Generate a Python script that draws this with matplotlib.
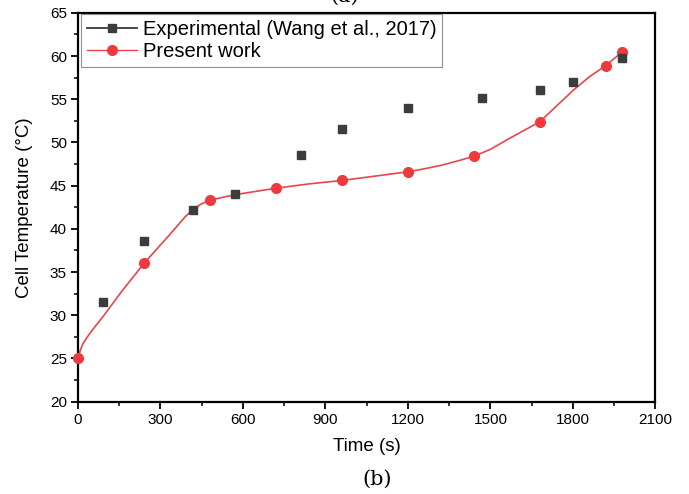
import matplotlib.pyplot as plt
from matplotlib.lines import Line2D
from matplotlib.ticker import MultipleLocator

plt.rcParams['font.family'] = ['Liberation Sans', 'DejaVu Sans']

# experimental points (Wang et al., 2017)
exp_time = [90, 240, 420, 570, 810, 960, 1200, 1470, 1680, 1800, 1980]
exp_temp = [31.5, 38.6, 42.2, 44.0, 48.6, 51.5, 54.0, 55.2, 56.1, 57.0, 59.8]

# present work - markers
sim_time = [0, 240, 480, 720, 960, 1200, 1440, 1680, 1920, 1980]
sim_temp = [25.0, 36.0, 43.3, 44.7, 45.6, 46.6, 48.4, 52.4, 58.9, 60.5]

# present work - curve
curve_time = [0, 8, 18, 30, 50, 90, 160, 240, 330, 390, 420, 450, 480, 540, 600, 720, 840,
              960, 1080, 1200, 1260, 1320, 1380, 1440, 1500, 1560, 1620, 1680, 1740, 1800,
              1860, 1920, 1950, 1980]
curve_temp = [25.0, 25.9, 26.7, 27.3, 28.2, 29.8, 32.8, 36.0, 39.2, 41.4, 42.3, 42.9, 43.3,
              43.75, 44.1, 44.7, 45.2, 45.6, 46.1, 46.6, 46.95, 47.35, 47.85, 48.4, 49.2,
              50.3, 51.35, 52.4, 54.2, 56.0, 57.6, 58.9, 59.7, 60.5]

fig = plt.figure(figsize=(6.89, 4.94), dpi=100)
ax = fig.add_axes([0.1132, 0.187, 0.838, 0.787])

red = '#ee3a3f'
grey = '#3c3c3c'

ax.plot(curve_time, curve_temp, color='#e8454b', lw=1.2, zorder=2)
ax.plot(sim_time, sim_temp, 'o', color=red, ms=7, mec=red, zorder=3, clip_on=False)
ax.plot(exp_time, exp_temp, 's', color=grey, ms=5.5, mec=grey, zorder=3, clip_on=False)

ax.set_xlim(0, 2100)
ax.set_ylim(20, 65)
ax.xaxis.set_major_locator(MultipleLocator(300))
ax.xaxis.set_minor_locator(MultipleLocator(150))
ax.yaxis.set_major_locator(MultipleLocator(5))
ax.yaxis.set_minor_locator(MultipleLocator(2.5))
ax.tick_params(which='major', direction='out', length=5, width=1.3, labelsize=11,
               colors='black', pad=3)
ax.tick_params(which='minor', direction='out', length=3, width=1.1)
for s in ax.spines.values():
    s.set_linewidth(1.6)

ax.set_xlabel('Time (s)', fontsize=13.5, labelpad=8)
ax.set_ylabel('Cell Temperature (°C)', fontsize=13.5, labelpad=12)

handles = [
    Line2D([], [], color=grey, lw=1.3, marker='s', ms=5.5, mec=grey),
    Line2D([], [], color='#e8454b', lw=1.0, marker='o', ms=7, mfc=red, mec=red),
]
leg = ax.legend(handles, ['Experimental (Wang et al., 2017)', 'Present work'],
                loc='upper left', bbox_to_anchor=(0.005, 0.996), fontsize=14.5,
                frameon=True, fancybox=False, framealpha=1, edgecolor='#909090',
                handlelength=2.5, handletextpad=0.3, labelspacing=0.15,
                borderpad=0.28, borderaxespad=0.0)
leg.get_frame().set_linewidth(0.8)

fig.text(0.547, 0.03, '(b)', family=['DejaVu Serif'], fontsize=15, ha='center', va='center')
fig.text(0.50, 1.008, '(a)', family=['DejaVu Serif'], fontsize=15, ha='center', va='center')

fig.savefig('out.png', dpi=100)
